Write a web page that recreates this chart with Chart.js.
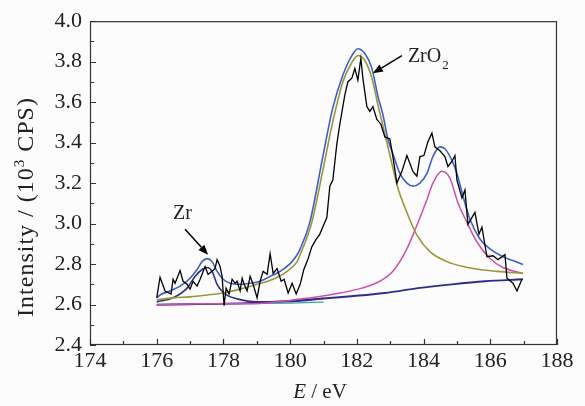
<!DOCTYPE html>
<html>
<head>
<meta charset="utf-8">
<script src="https://cdn.jsdelivr.net/npm/chart.js@4.4.1/dist/chart.umd.min.js"></script>
<style>
  body { margin: 0; background: #fcfcfc; }
  #wrap { width: 585px; height: 406px; position: relative; }
</style>
</head>
<body>
<div id="wrap"><canvas id="xps-chart"></canvas></div>
<script>
// tick values
const xTicks = [174, 176, 178, 180, 182, 184, 186, 188];
const xMinor = [175, 177, 179, 181, 183, 185, 187];
const yTicks = [2.4, 2.6, 2.8, 3.0, 3.2, 3.4, 3.6, 3.8, 4.0];
const yMinor = [2.5, 2.7, 2.9, 3.1, 3.3, 3.5, 3.7, 3.9];

// measured spectrum (black)
const rawE = [176.00, 176.10, 176.25, 176.43, 176.49, 176.55, 176.70, 176.79, 176.91, 177.00,
  177.09, 177.21, 177.30, 177.45, 177.54, 177.66, 177.75, 177.81, 177.90, 177.96,
  178.02, 178.08, 178.17, 178.26, 178.35, 178.41, 178.50, 178.56, 178.62, 178.71,
  178.80, 178.89, 179.01, 179.10, 179.19, 179.31, 179.40, 179.49, 179.61, 179.73,
  179.82, 179.94, 180.06, 180.18, 180.30, 180.41, 180.53, 180.65, 180.77, 180.89,
  181.01, 181.10, 181.19, 181.28, 181.40, 181.49, 181.64, 181.73, 181.85, 181.94,
  182.03, 182.12, 182.18, 182.30, 182.39, 182.48, 182.60, 182.72, 182.84, 182.99,
  183.08, 183.20, 183.35, 183.50, 183.68, 183.80, 183.89, 184.01, 184.13, 184.25,
  184.34, 184.49, 184.64, 184.73, 184.85, 184.94, 185.00, 185.15, 185.24, 185.33,
  185.54, 185.66, 185.75, 185.90, 186.08, 186.23, 186.44, 186.50, 186.68, 186.80, 186.95];
const rawI = [2.633, 2.735, 2.667, 2.652, 2.725, 2.705, 2.768, 2.715, 2.700, 2.676,
  2.715, 2.691, 2.725, 2.788, 2.749, 2.764, 2.778, 2.822, 2.788, 2.739,
  2.594, 2.681, 2.652, 2.725, 2.705, 2.715, 2.667, 2.730, 2.700, 2.667,
  2.739, 2.700, 2.633, 2.715, 2.764, 2.749, 2.851, 2.754, 2.778, 2.715,
  2.725, 2.657, 2.705, 2.652, 2.700, 2.773, 2.822, 2.885, 2.919, 2.948,
  2.996, 3.030, 3.185, 3.215, 3.394, 3.491, 3.636, 3.700, 3.719, 3.767,
  3.709, 3.816, 3.719, 3.578, 3.554, 3.578, 3.515, 3.491, 3.428, 3.418,
  3.331, 3.200, 3.258, 3.336, 3.258, 3.234, 3.331, 3.336, 3.404, 3.447,
  3.379, 3.360, 3.331, 3.282, 3.307, 3.336, 3.215, 3.127, 3.166, 2.996,
  3.055, 2.948, 2.982, 2.836, 2.841, 2.822, 2.846, 2.730, 2.705, 2.667, 2.725];

// fitted envelope (blue)
const envE = [176.00, 176.10, 176.40, 176.70, 177.00, 177.21, 177.36, 177.51, 177.66, 177.81,
  177.99, 178.20, 178.50, 178.80, 179.10, 179.40, 179.70, 180.00, 180.21, 180.30,
  180.59, 180.98, 181.28, 181.58, 181.85, 182.03, 182.24, 182.45, 182.63, 182.78,
  182.93, 183.08, 183.29, 183.50, 183.68, 183.89, 184.10, 184.28, 184.49, 184.64,
  184.85, 185.00, 185.18, 185.39, 185.69, 185.99, 186.38, 186.68, 186.98];
const envI = [2.633, 2.647, 2.667, 2.691, 2.730, 2.773, 2.812, 2.827, 2.812, 2.764,
  2.725, 2.705, 2.700, 2.705, 2.715, 2.739, 2.764, 2.802, 2.846, 2.875,
  3.006, 3.331, 3.573, 3.733, 3.830, 3.864, 3.840, 3.767, 3.630, 3.539,
  3.418, 3.345, 3.248, 3.200, 3.185, 3.200, 3.248, 3.331, 3.379, 3.370,
  3.312, 3.248, 3.137, 3.021, 2.924, 2.875, 2.836, 2.817, 2.798];

// ZrO2 component (olive)
const oxE = [176.00, 176.49, 177.00, 177.51, 177.99, 178.50, 179.01, 179.49, 179.91, 180.21,
  180.30, 180.65, 180.98, 181.28, 181.58, 181.85, 182.03, 182.24, 182.45, 182.63,
  182.84, 183.05, 183.23, 183.50, 183.80, 184.19, 184.70, 185.18, 185.69, 186.20, 186.98];
const oxI = [2.623, 2.633, 2.638, 2.647, 2.657, 2.676, 2.700, 2.725, 2.764, 2.812,
  2.846, 3.006, 3.263, 3.505, 3.700, 3.796, 3.830, 3.806, 3.719, 3.588,
  3.442, 3.297, 3.176, 3.055, 2.943, 2.861, 2.812, 2.788, 2.773, 2.764, 2.754];

// second component (magenta)
const magE = [176.00, 177.30, 178.86, 180.36, 181.34, 182.15, 182.69, 183.08, 183.50, 183.80,
  184.10, 184.28, 184.55, 184.79, 185.03, 185.30, 185.60, 185.99, 186.38, 186.98];
const magI = [2.599, 2.604, 2.604, 2.628, 2.652, 2.681, 2.715, 2.764, 2.875, 2.992,
  3.118, 3.200, 3.258, 3.224, 3.103, 3.006, 2.909, 2.827, 2.783, 2.754];

// Zr metal component (navy)
const zrE = [176.00, 176.49, 176.91, 177.15, 177.36, 177.51, 177.66, 177.81, 178.05, 178.41, 179.01, 180.30, 181.00];
const zrI = [2.613, 2.633, 2.681, 2.739, 2.773, 2.783, 2.764, 2.700, 2.652, 2.628, 2.613, 2.618, 2.630];

// background (navy)
const bgE = [176.00, 178.86, 180.83, 182.84, 183.83, 184.85, 185.84, 186.98];
const bgI = [2.599, 2.608, 2.628, 2.657, 2.681, 2.700, 2.715, 2.725];

// flat baseline (teal)
const baseE = [176.00, 178.00, 180.00, 181.00];
const baseI = [2.600, 2.603, 2.607, 2.612];

const pts = (xs, ys) => xs.map((x, i) => ({ x: x, y: ys[i] }));
const serif = "'Liberation Serif', 'Times New Roman', serif";

function curve(data, color, width) {
    return {
        data: data,
        borderColor: color,
        borderWidth: width,
        pointRadius: 0,
        fill: false,
        cubicInterpolationMode: 'monotone'
    };
}

// frame, inner ticks, axis titles and labels
const decorPlugin = {
    id: 'decor',
    beforeDraw(chart) {
        const c = chart.ctx;
        c.save();
        c.fillStyle = '#fcfcfc';
        c.fillRect(0, 0, chart.width, chart.height);
        c.restore();
    },
    afterDraw(chart) {
        const c = chart.ctx;
        const a = chart.chartArea;
        const xs = chart.scales.x, ys = chart.scales.y;
        c.save();
        c.strokeStyle = '#333';
        c.lineWidth = 1.2;
        c.strokeRect(a.left + 0.5, a.top + 0.5, a.right - a.left - 1, a.bottom - a.top - 1);

        c.beginPath();
        xTicks.forEach(v => { const p = Math.round(xs.getPixelForValue(v)) + 0.5; c.moveTo(p, a.bottom); c.lineTo(p, a.bottom - 6); });
        xMinor.forEach(v => { const p = Math.round(xs.getPixelForValue(v)) + 0.5; c.moveTo(p, a.bottom); c.lineTo(p, a.bottom - 4); });
        yTicks.forEach(v => { const p = Math.round(ys.getPixelForValue(v)) + 0.5; c.moveTo(a.left, p); c.lineTo(a.left + 6, p); });
        yMinor.forEach(v => { const p = Math.round(ys.getPixelForValue(v)) + 0.5; c.moveTo(a.left, p); c.lineTo(a.left + 4, p); });
        c.stroke();

        c.fillStyle = '#222';
        c.textBaseline = 'alphabetic';

        // x title: E / eV
        c.font = 'italic 21px ' + serif;
        const wE = c.measureText('E').width;
        c.font = '21px ' + serif;
        const wRest = c.measureText(' / eV').width;
        let x0 = 320 - (wE + wRest) / 2;
        c.font = 'italic 21px ' + serif;
        c.fillText('E', x0, 398);
        c.font = '21px ' + serif;
        c.fillText(' / eV', x0 + wE, 398);

        // y title with superscript
        c.translate(33, 207);
        c.rotate(-Math.PI / 2);
        c.letterSpacing = '1px';
        const p1 = 'Intensity / (10', p2 = '3', p3 = ' CPS)';
        c.font = '24px ' + serif;
        const w1 = c.measureText(p1).width, w3 = c.measureText(p3).width;
        c.font = '15px ' + serif;
        const w2 = c.measureText(p2).width;
        let tx = -(w1 + w2 + w3) / 2;
        c.font = '24px ' + serif;
        c.fillText(p1, tx, 0);
        c.font = '15px ' + serif;
        c.fillText(p2, tx + w1, -9);
        c.font = '24px ' + serif;
        c.fillText(p3, tx + w1 + w2, 0);
        c.letterSpacing = '0px';
        c.setTransform(1, 0, 0, 1, 0, 0);

        // peak labels
        c.font = '20px ' + serif;
        c.fillText('Zr', xs.getPixelForValue(176.49), ys.getPixelForValue(3.021));
        const zx = xs.getPixelForValue(183.53), zy = ys.getPixelForValue(3.796);
        c.fillText('ZrO', zx, zy);
        const wz = c.measureText('ZrO').width;
        c.font = '13px ' + serif;
        c.fillText('2', zx + wz + 1, zy + 7);

        arrow(c, xs.getPixelForValue(176.85), ys.getPixelForValue(2.972), xs.getPixelForValue(177.54), ys.getPixelForValue(2.846));
        arrow(c, xs.getPixelForValue(183.35), ys.getPixelForValue(3.830), xs.getPixelForValue(182.48), ys.getPixelForValue(3.743));
        c.restore();
    }
};

function arrow(c, x1, y1, x2, y2) {
    const ang = Math.atan2(y2 - y1, x2 - x1);
    const hl = 10, hw = 4;
    c.strokeStyle = '#000';
    c.fillStyle = '#000';
    c.lineWidth = 1.5;
    c.beginPath();
    c.moveTo(x1, y1);
    c.lineTo(x2 - hl * Math.cos(ang), y2 - hl * Math.sin(ang));
    c.stroke();
    c.beginPath();
    c.moveTo(x2, y2);
    c.lineTo(x2 - hl * Math.cos(ang) + hw * Math.sin(ang), y2 - hl * Math.sin(ang) - hw * Math.cos(ang));
    c.lineTo(x2 - hl * Math.cos(ang) - hw * Math.sin(ang), y2 - hl * Math.sin(ang) + hw * Math.cos(ang));
    c.closePath();
    c.fill();
}

document.addEventListener('DOMContentLoaded', function() {
    const ctx = document.getElementById('xps-chart').getContext('2d');
    new Chart(ctx, {
        type: 'line',
        data: {
            datasets: [
                { data: pts(rawE, rawI), borderColor: '#000', borderWidth: 1.3, pointRadius: 0, fill: false, tension: 0 },
                curve(pts(envE, envI), '#3f5fc8', 1.6),
                curve(pts(oxE, oxI), '#9a963a', 1.6),
                curve(pts(magE, magI), '#d24fa6', 1.5),
                curve(pts(zrE, zrI), '#2e2e8a', 1.6),
                curve(pts(bgE, bgI), '#2e2e8a', 1.8),
                curve(pts(baseE, baseI), '#3aa0a0', 1.2)
            ]
        },
        options: {
            responsive: true,
            maintainAspectRatio: false,
            animation: false,
            layout: { padding: { top: 15, right: 28, left: 0, bottom: 0 } },
            plugins: {
                legend: { display: false },
                tooltip: { enabled: false }
            },
            scales: {
                x: {
                    type: 'linear',
                    min: 174,
                    max: 188,
                    afterBuildTicks: s => { s.ticks = xTicks.map(v => ({ value: v })); },
                    afterFit: s => { s.height = 61; },
                    grid: { display: false, drawTicks: false },
                    border: { display: false },
                    ticks: { color: '#222', padding: 3, maxRotation: 0, font: { family: serif, size: 22 } }
                },
                y: {
                    type: 'linear',
                    min: 2.4,
                    max: 4.0,
                    afterBuildTicks: s => { s.ticks = yTicks.map(v => ({ value: v })); },
                    afterFit: s => { s.width = 90; },
                    grid: { display: false, drawTicks: false },
                    border: { display: false },
                    ticks: { color: '#222', padding: 8, font: { family: serif, size: 22 }, callback: v => v.toFixed(1) }
                }
            }
        },
        plugins: [decorPlugin]
    });
});
</script>
</body>
</html>
